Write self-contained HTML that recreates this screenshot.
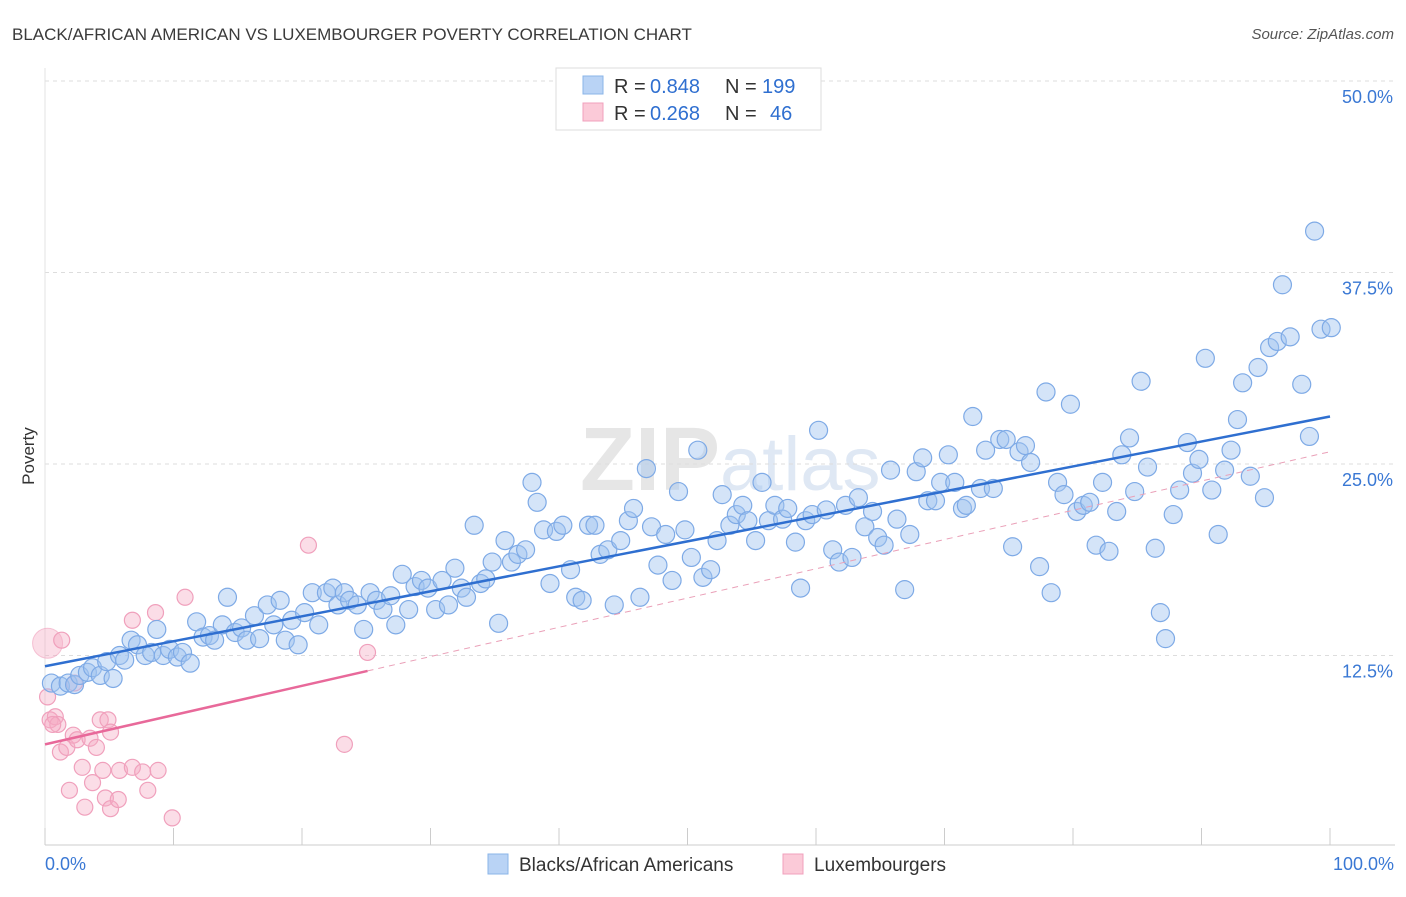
<!DOCTYPE html>
<html><head><meta charset="utf-8"><style>
body{margin:0;background:#fff;font-family:"Liberation Sans",sans-serif;}
svg text{font-family:"Liberation Sans",sans-serif;}
</style></head><body>
<svg id="chart" width="1406" height="892">
<text x="12" y="40" font-size="17" fill="#3a3a3a">BLACK/AFRICAN AMERICAN VS LUXEMBOURGER POVERTY CORRELATION CHART</text>
<text x="1394" y="39" font-size="15" fill="#555" font-style="italic" text-anchor="end">Source: ZipAtlas.com</text>
<text x="720" y="490" font-size="90" fill="#e6e6e6" text-anchor="end" font-family="Liberation Serif" font-weight="bold">ZIP</text>
<text x="720" y="490" font-size="76" fill="#dfe8f4">atlas</text>
<g id="grid"></g>
<g id="marks"></g>
<text x="34" y="456" font-size="17" fill="#333" text-anchor="middle" transform="rotate(-90 34 456)">Poverty</text>
<g>
<rect x="556" y="68" width="265" height="62" fill="#fff" stroke="#ddd"/>
<rect x="583" y="76" width="20" height="18" fill="#b9d3f5" stroke="#8ab4e8"/>
<text x="614" y="93" font-size="20" fill="#333">R =</text>
<text x="650" y="93" font-size="20" fill="#2f6fd0">0.848</text>
<text x="725" y="93" font-size="20" fill="#333">N =</text>
<text x="762" y="93" font-size="20" fill="#2f6fd0">199</text>
<rect x="583" y="103" width="20" height="18" fill="#fbcad8" stroke="#f0a0bc"/>
<text x="614" y="120" font-size="20" fill="#333">R =</text>
<text x="650" y="120" font-size="20" fill="#2f6fd0">0.268</text>
<text x="725" y="120" font-size="20" fill="#333">N =</text>
<text x="770" y="120" font-size="20" fill="#2f6fd0">46</text>
</g>
<g>
<rect x="488" y="854" width="20" height="20" fill="#b9d3f5" stroke="#8ab4e8"/>
<text x="519" y="871" font-size="19" fill="#333">Blacks/African Americans</text>
<rect x="783" y="854" width="20" height="20" fill="#fbcad8" stroke="#f0a0bc"/>
<text x="814" y="871" font-size="19" fill="#333">Luxembourgers</text>
</g>
</svg>
<script>
const yTicks=[12.5,25,37.5,50];
const yTickLabels=["12.5%","25.0%","37.5%","50.0%"];
const xTickVals=[0,10,20,30,40,50,60,70,80,90,100];
const blueX=[0.5,1.2,1.8,2.3,2.7,3.3,3.7,4.3,4.8,5.3,5.8,6.2,6.7,7.2,7.8,8.3,8.7,9.2,9.7,10.3,10.7,11.3,11.8,12.3,12.8,13.2,13.8,14.2,14.8,15.3,15.7,16.3,16.7,17.3,17.8,18.3,18.7,19.2,19.7,20.2,20.8,21.3,21.9,22.4,22.8,23.3,23.7,24.3,24.8,25.3,25.8,26.3,26.9,27.3,27.8,28.3,28.8,29.3,29.8,30.4,30.9,31.4,31.9,32.4,32.8,33.4,33.9,34.3,34.8,35.3,35.8,36.3,36.8,37.4,37.9,38.3,38.8,39.3,39.8,40.3,40.9,41.3,41.8,42.3,42.8,43.2,43.8,44.3,44.8,45.4,45.8,46.3,46.8,47.2,47.7,48.3,48.8,49.3,49.8,50.3,50.8,51.2,51.8,52.3,52.7,53.3,53.8,54.3,54.7,55.3,55.8,56.3,56.8,57.4,57.8,58.4,58.8,59.2,59.7,60.2,60.8,61.3,61.8,62.3,62.8,63.3,63.8,64.4,64.8,65.3,65.8,66.3,66.9,67.3,67.8,68.3,68.7,69.3,69.7,70.3,70.8,71.4,71.7,72.2,72.8,73.2,73.8,74.3,74.8,75.3,75.8,76.3,76.7,77.4,77.9,78.3,78.8,79.3,79.8,80.3,80.8,81.3,81.8,82.3,82.8,83.4,83.8,84.4,84.8,85.3,85.8,86.4,86.8,87.2,87.8,88.3,88.9,89.3,89.8,90.3,90.8,91.3,91.8,92.3,92.8,93.2,93.8,94.4,94.9,95.3,95.9,96.3,96.9,97.8,98.4,98.8,99.3,100.1];
const blueY=[10.7,10.5,10.7,10.6,11.2,11.4,11.7,11.2,12.1,11.0,12.5,12.2,13.5,13.2,12.5,12.7,14.2,12.5,12.9,12.4,12.7,12.0,14.7,13.7,13.8,13.5,14.5,16.3,14.0,14.3,13.5,15.1,13.6,15.8,14.5,16.1,13.5,14.8,13.2,15.3,16.6,14.5,16.6,16.9,15.8,16.6,16.1,15.8,14.2,16.6,16.1,15.5,16.4,14.5,17.8,15.5,17.0,17.4,16.9,15.5,17.4,15.8,18.2,16.9,16.3,21.0,17.2,17.5,18.6,14.6,20.0,18.6,19.1,19.4,23.8,22.5,20.7,17.2,20.6,21.0,18.1,16.3,16.1,21.0,21.0,19.1,19.4,15.8,20.0,21.3,22.1,16.3,24.7,20.9,18.4,20.4,17.4,23.2,20.7,18.9,25.9,17.6,18.1,20.0,23.0,21.0,21.7,22.3,21.3,20.0,23.8,21.3,22.3,21.4,22.1,19.9,16.9,21.3,21.7,27.2,22.0,19.4,18.6,22.3,18.9,22.8,20.9,21.9,20.2,19.7,24.6,21.4,16.8,20.4,24.5,25.4,22.6,22.6,23.8,25.6,23.8,22.1,22.3,28.1,23.4,25.9,23.4,26.6,26.6,19.6,25.8,26.2,25.1,18.3,29.7,16.6,23.8,23.0,28.9,21.9,22.3,22.5,19.7,23.8,19.3,21.9,25.6,26.7,23.2,30.4,24.8,19.5,15.3,13.6,21.7,23.3,26.4,24.4,25.3,31.9,23.3,20.4,24.6,25.9,27.9,30.3,24.2,31.3,22.8,32.6,33.0,36.7,33.3,30.2,26.8,40.2,33.8,33.9];
const pinkX=[0.2,0.4,0.8,1.0,1.3,1.2,1.7,1.9,2.2,2.5,2.9,3.1,3.5,3.7,4.0,4.3,4.5,4.7,4.9,5.1,5.1,5.7,5.8,6.8,6.8,7.6,8.0,8.6,8.8,9.9,10.9,20.5,23.3,25.1,2.3,0.6];
const pinkY=[9.8,8.3,8.5,8.0,13.5,6.2,6.5,3.7,7.3,7.0,5.2,2.6,7.1,4.2,6.5,8.3,5.0,3.2,8.3,7.5,2.5,3.1,5.0,5.2,14.8,4.9,3.7,15.3,5.0,1.9,16.3,19.7,6.7,12.7,10.7,8.0];
const bigPinkX=[0.2], bigPinkY=[13.3];
const blueFit=[11.8,28.1];
const pinkFit=[6.7,25.8];
const pinkSolidEnd=25.1;
const X=v=>45+v*12.85, Y=v=>847-v*15.32;
const NS="http://www.w3.org/2000/svg";
const grid=document.getElementById('grid'), marks=document.getElementById('marks');
function mk(tag,attrs,parent){const e=document.createElementNS(NS,tag);for(const k in attrs)e.setAttribute(k,attrs[k]);parent.appendChild(e);return e;}
yTicks.forEach((t,i)=>{
 const l=mk('line',{x1:45,x2:1395,y1:Y(t),y2:Y(t),stroke:'#ddd','stroke-dasharray':'4,4'},grid);
 
 
 const tx=mk('text',{x:1393,y:Y(t)+22,'font-size':18,fill:'#3a78d4','text-anchor':'end'},grid);
 tx.textContent=yTickLabels[i];
 
 
});
const ax=mk('line',{x1:45,x2:1395,y1:845,y2:845,stroke:'#ccc'},grid);


const ay=mk('line',{x1:45,x2:45,y1:68,y2:845,stroke:'#e3e3e3'},grid);


xTickVals.forEach(v=>{
 const t=mk('line',{x1:X(v),x2:X(v),y1:828,y2:845,stroke:'#ccc'},grid);
 
 
});
[[0,'0.0%','start',45],[100,'100.0%','end',1394]].forEach(a=>{
 const t=mk('text',{x:a[3],y:870,'font-size':18,fill:'#3a78d4','text-anchor':a[2]},grid);
 t.textContent=a[1];
 
 
});
bigPinkX.forEach((x,i)=>{
 const c=mk('circle',{cx:X(x),cy:Y(bigPinkY[i]),r:15,fill:'rgba(244,170,195,0.4)',stroke:'rgba(240,160,188,0.6)'},marks);
 
 
});
pinkX.forEach((x,i)=>{
 const c=mk('circle',{cx:X(x),cy:Y(pinkY[i]),r:8,fill:'rgba(244,170,195,0.4)',stroke:'#f0a0bc','stroke-width':1.2},marks);
 
 
});
blueX.forEach((x,i)=>{
 const c=mk('circle',{cx:X(x),cy:Y(blueY[i]),r:9,fill:'rgba(160,195,240,0.45)',stroke:'#7eaae6','stroke-width':1.2},marks);
 
 
});
const pAt=x=>pinkFit[0]+(pinkFit[1]-pinkFit[0])*x/100;
const pd=mk('line',{x1:X(pinkSolidEnd),y1:Y(pAt(pinkSolidEnd)),x2:X(100),y2:Y(pinkFit[1]),stroke:'#eaa0b8','stroke-width':1,'stroke-dasharray':'6,5'},marks);


const ps=mk('line',{x1:X(0),y1:Y(pinkFit[0]),x2:X(pinkSolidEnd),y2:Y(pAt(pinkSolidEnd)),stroke:'#e8699a','stroke-width':2.5},marks);


const bl=mk('line',{x1:X(0),y1:Y(blueFit[0]),x2:X(100),y2:Y(blueFit[1]),stroke:'#2f6fd0','stroke-width':2.5},marks);


</script>
</body></html>
